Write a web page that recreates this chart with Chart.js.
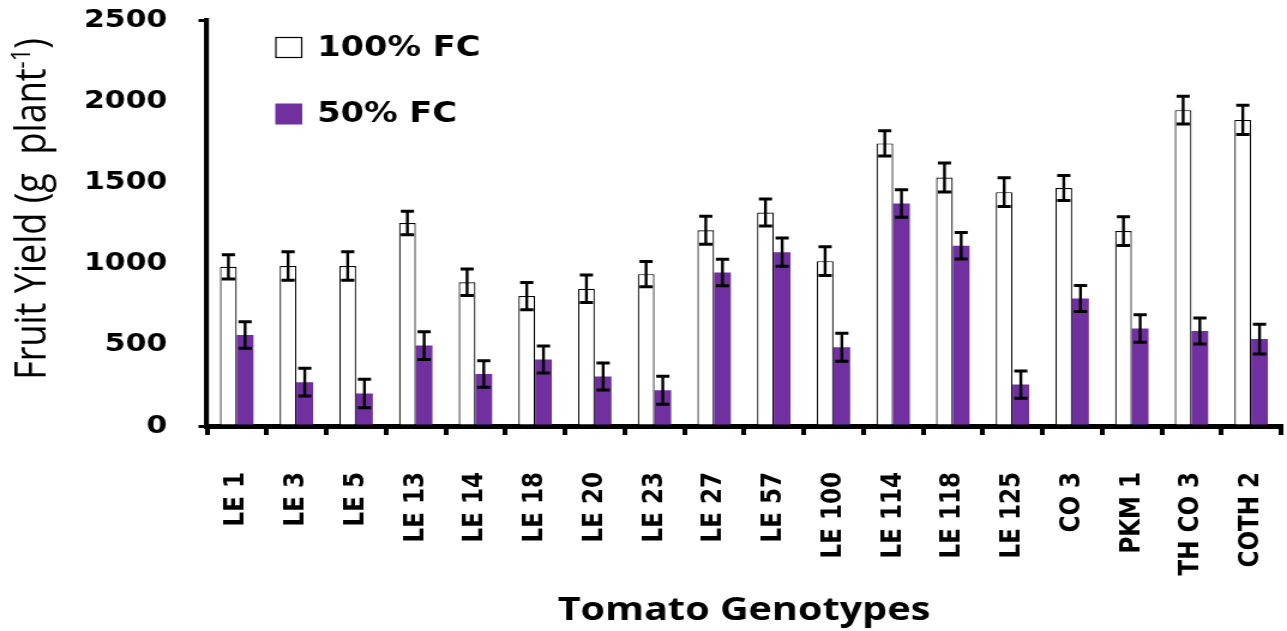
<!DOCTYPE html>
<html>
<head>
<meta charset="utf-8">
<script src="https://cdn.jsdelivr.net/npm/chart.js@4.4.0/dist/chart.umd.min.js"></script>
<style>
  html, body { margin: 0; padding: 0; background: #fff; }
  /* the source figure is stretched sideways: draw narrow, widen with css */
  #chart { display: block; width: 1287px !important; height: 631px !important; }
</style>
</head>
<body>
<canvas id="chart" width="1073" height="631"></canvas>
<script>
/* ── data ── */
const genotypes = ['LE 1', 'LE 3', 'LE 5', 'LE 13', 'LE 14', 'LE 18', 'LE 20', 'LE 23', 'LE 27',
                   'LE 57', 'LE 100', 'LE 114', 'LE 118', 'LE 125', 'CO 3', 'PKM 1', 'TH CO 3', 'COTH 2'];

const fc100    = [980, 985, 985, 1250, 885, 800, 845, 935, 1205, 1315, 1015, 1740, 1530, 1440, 1465, 1200, 1945, 1885];
const fc100Err = [75, 88, 88, 72, 81, 84, 85, 78, 86, 83, 88, 78, 89, 88, 77, 89, 85, 90];

const fc50     = [560, 270, 200, 495, 320, 410, 305, 220, 945, 1070, 485, 1370, 1110, 255, 785, 600, 585, 535];
const fc50Err  = [82, 85, 88, 85, 82, 83, 83, 86, 82, 87, 86, 84, 82, 84, 80, 85, 80, 92];

const yTicks = [0, 500, 1000, 1500, 2000, 2500];

const xTitle = 'Tomato Genotypes';
const yTitle = 'Fruit Yield (g  plant';
const yTitleSup = '-1';

const PURPLE = '#7030A0';

/* ── plugins ── */
const errorBars = {
    id: 'errorBars',
    afterDatasetsDraw(chart) {
        const ctx = chart.ctx;
        const y = chart.scales.y;
        ctx.save();
        ctx.strokeStyle = '#000';
        chart.data.datasets.forEach((ds, i) => {
            chart.getDatasetMeta(i).data.forEach((bar, j) => {
                const top = y.getPixelForValue(ds.data[j] + ds.errors[j]);
                const bot = y.getPixelForValue(ds.data[j] - ds.errors[j]);
                ctx.lineWidth = 2.4;
                ctx.beginPath();
                ctx.moveTo(bar.x, top); ctx.lineTo(bar.x, bot);
                ctx.stroke();
                ctx.lineWidth = 3;
                ctx.beginPath();
                ctx.moveTo(bar.x - 5.5, top); ctx.lineTo(bar.x + 5.5, top);
                ctx.moveTo(bar.x - 5.5, bot); ctx.lineTo(bar.x + 5.5, bot);
                ctx.stroke();
            });
        });
        ctx.restore();
    },
};

const boxLegend = {
    id: 'boxLegend',
    afterDraw(chart) {
        const { ctx, chartArea: a } = chart;
        ctx.save();
        ctx.font = 'bold 28px "DejaVu Sans"';
        ctx.textBaseline = 'middle';
        ctx.textAlign = 'left';
        chart.data.datasets.forEach((ds, i) => {
            const cy = a.top + 27.5 + i * 66.5;
            const bx = a.left + 57;
            ctx.fillStyle = ds.backgroundColor;
            ctx.fillRect(bx, cy - 10.5, 22.5, 21);
            if (ds.borderWidth) {
                ctx.strokeStyle = ds.borderColor;
                ctx.lineWidth = 1.2;
                ctx.strokeRect(bx + 0.5, cy - 10, 21.5, 20);
            }
            ctx.fillStyle = '#000';
            ctx.fillText(ds.label, bx + 35, cy + 1);
        });
        ctx.restore();
    },
};

const axisTitles = {
    id: 'axisTitles',
    afterDraw(chart) {
        const { ctx, chartArea: a, height } = chart;
        ctx.save();
        ctx.fillStyle = '#000';

        ctx.font = 'bold 33px "Open Sans"';
        ctx.textAlign = 'center';
        ctx.textBaseline = 'alphabetic';
        ctx.fillText(xTitle, (a.left + a.right) / 2, height - 11);

        // rotated y title with superscript
        const main = '36px "Open Sans"';
        const sup  = '22px "Open Sans"';
        ctx.font = main;
        const w1 = ctx.measureText(yTitle).width;
        const w3 = ctx.measureText(')').width;
        ctx.font = sup;
        const w2 = ctx.measureText(yTitleSup).width;
        const total = w1 + w2 + w3;

        ctx.translate(38, (a.top + a.bottom) / 2 - 14);
        ctx.rotate(-Math.PI / 2);
        ctx.textAlign = 'left';
        let x = -total / 2;
        ctx.font = main;
        ctx.fillText(yTitle, x, 0);
        x += w1;
        ctx.font = sup;
        ctx.fillText(yTitleSup, x, -13);
        x += w2;
        ctx.font = main;
        ctx.fillText(')', x, 0);
        ctx.restore();
    },
};

/* ── chart ── */
new Chart(document.getElementById('chart').getContext('2d'), {
    type: 'bar',
    data: {
        labels: genotypes,
        datasets: [
            {
                label: '100% FC',
                data: fc100,
                errors: fc100Err,
                backgroundColor: '#ffffff',
                borderColor: '#000000',
                borderWidth: 1.2,
                categoryPercentage: 0.56,
                barPercentage: 1,
            },
            {
                label: '50% FC',
                data: fc50,
                errors: fc50Err,
                backgroundColor: PURPLE,
                borderWidth: 0,
                categoryPercentage: 0.56,
                barPercentage: 1,
            },
        ],
    },
    options: {
        responsive: false,
        devicePixelRatio: 1,
        animation: false,
        layout: { padding: { top: 20, right: 5, left: 0, bottom: 0 } },
        plugins: {
            legend:  { display: false },
            tooltip: { enabled: false },
        },
        scales: {
            x: {
                grid: {
                    drawOnChartArea: false,
                    tickLength: 9,
                    lineWidth: 4,
                    color: '#000',
                    offset: true,
                },
                border: { color: '#000', width: 5 },
                ticks: {
                    color: '#000',
                    font: { family: 'DejaVu Sans', weight: 'bold', size: 23 },
                    minRotation: 90,
                    maxRotation: 90,
                    autoSkip: false,
                    padding: 37,
                },
                afterFit(s) { s.height = 205; s.paddingLeft = 0; s.paddingRight = 0; },
            },
            y: {
                min: 0,
                max: 2500,
                afterBuildTicks(s) { s.ticks = yTicks.map(v => ({ value: v })); },
                grid: {
                    drawOnChartArea: false,
                    tickLength: 7,
                    lineWidth: 3,
                    color: c => (c.tick && (c.tick.value === 0 || c.tick.value === 2500)) ? '#000' : 'rgba(0,0,0,0)',
                },
                border: { color: '#000', width: 4.2 },
                ticks: {
                    color: '#000',
                    font: { family: 'DejaVu Sans', weight: 'bold', size: 25 },
                    padding: 26,
                    callback: v => String(v),
                },
                afterFit(s) { s.width = 172.5; s.paddingTop = 0; s.paddingBottom = 0; },
            },
        },
    },
    plugins: [errorBars, boxLegend, axisTitles],
});
</script>
</body>
</html>
